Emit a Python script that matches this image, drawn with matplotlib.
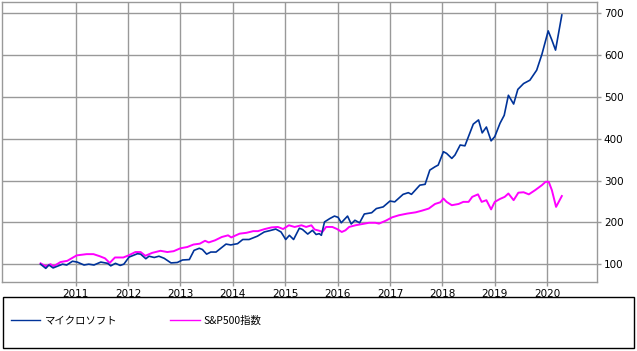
import numpy as np
import matplotlib
matplotlib.use('Agg')
import matplotlib.pyplot as plt
from matplotlib.patches import Rectangle

plt.rcParams['font.family'] = ['DejaVu Sans', 'Noto Sans CJK JP']

# series values (decimal year, index with start = 100)
msft_year = [2010.33, 2010.43, 2010.49, 2010.57, 2010.75, 2010.83, 2010.94, 2011.03, 2011.16, 2011.25,
             2011.35, 2011.48, 2011.61, 2011.67, 2011.76, 2011.85, 2011.92, 2012.02, 2012.18, 2012.24,
             2012.34, 2012.40, 2012.50, 2012.59, 2012.69, 2012.82, 2012.94, 2013.04, 2013.17, 2013.26,
             2013.36, 2013.42, 2013.50, 2013.58, 2013.68, 2013.77, 2013.87, 2013.96, 2014.09, 2014.19,
             2014.31, 2014.47, 2014.60, 2014.70, 2014.82, 2014.92, 2015.01, 2015.08, 2015.16, 2015.27,
             2015.33, 2015.43, 2015.52, 2015.59, 2015.65, 2015.69, 2015.75, 2015.85, 2015.94, 2016.01,
             2016.07, 2016.19, 2016.26, 2016.33, 2016.42, 2016.51, 2016.65, 2016.74, 2016.87, 2017.00,
             2017.09, 2017.25, 2017.35, 2017.41, 2017.57, 2017.67, 2017.76, 2017.86, 2017.92, 2018.02,
             2018.08, 2018.18, 2018.24, 2018.34, 2018.43, 2018.59, 2018.69, 2018.76, 2018.84, 2018.93,
             2019.00, 2019.10, 2019.18, 2019.26, 2019.36, 2019.44, 2019.55, 2019.67, 2019.80, 2019.90,
             2020.02, 2020.09, 2020.16, 2020.28]
msft_val = [100, 90, 98, 91, 100, 98, 107, 105, 98, 100,
            98, 105, 102, 96, 102, 97, 100, 117, 125, 124,
            113, 119, 116, 119, 114, 103, 104, 110, 111, 133,
            138, 135, 124, 129, 129, 138, 148, 146, 149, 159,
            159, 167, 177, 180, 184, 177, 159, 169, 159, 186,
            183, 172, 181, 171, 173, 169, 201, 209, 215, 212,
            199, 215, 196, 205, 199, 220, 223, 233, 237, 251,
            249, 267, 271, 267, 289, 291, 325, 333, 337, 369,
            365, 353, 361, 385, 383, 435, 445, 414, 428, 395,
            405, 437, 456, 504, 483, 518, 532, 540, 564, 602,
            658, 636, 612, 696]

sp_year = [2010.33, 2010.43, 2010.52, 2010.58, 2010.71, 2010.84, 2011.02, 2011.21, 2011.34, 2011.46,
           2011.56, 2011.65, 2011.75, 2011.91, 2012.01, 2012.14, 2012.24, 2012.33, 2012.46, 2012.62,
           2012.75, 2012.87, 2013.00, 2013.13, 2013.25, 2013.37, 2013.47, 2013.54, 2013.66, 2013.79,
           2013.91, 2013.97, 2014.13, 2014.26, 2014.39, 2014.48, 2014.61, 2014.74, 2014.86, 2014.96,
           2015.07, 2015.18, 2015.31, 2015.40, 2015.50, 2015.56, 2015.65, 2015.71, 2015.78, 2015.90,
           2015.99, 2016.08, 2016.15, 2016.22, 2016.34, 2016.47, 2016.60, 2016.72, 2016.79, 2016.92,
           2017.04, 2017.17, 2017.33, 2017.49, 2017.61, 2017.74, 2017.86, 2017.96, 2018.02, 2018.08,
           2018.18, 2018.31, 2018.40, 2018.50, 2018.57, 2018.68, 2018.75, 2018.84, 2018.93, 2019.00,
           2019.10, 2019.19, 2019.26, 2019.36, 2019.45, 2019.55, 2019.65, 2019.77, 2019.90, 2019.97,
           2020.03, 2020.09, 2020.17, 2020.28]
sp_val = [102, 95, 100, 95, 105, 108, 121, 124, 124, 119,
          114, 103, 116, 116, 121, 129, 129, 120, 127, 132,
          129, 131, 138, 141, 147, 149, 156, 152, 157, 165,
          169, 164, 173, 175, 179, 179, 184, 188, 189, 184,
          193, 189, 193, 189, 193, 183, 180, 177, 189, 189,
          184, 177, 181, 189, 193, 196, 199, 199, 197, 204,
          212, 217, 221, 224, 228, 233, 244, 248, 257, 249,
          241, 244, 249, 249, 261, 267, 249, 253, 231, 249,
          256, 261, 269, 253, 271, 272, 267, 277, 289, 297,
          297, 277, 237, 263]

year_ticks = list(range(2011, 2021))
value_ticks = [100, 200, 300, 400, 500, 600, 700]

fig = plt.figure(figsize=(6.37, 3.51), dpi=100)
ax = fig.add_axes([0.0036, 0.197, 0.9335, 0.7964])

ax.plot(msft_year, msft_val, color='#003399', lw=1.2, zorder=3)
ax.plot(sp_year, sp_val, color='#ff00ff', lw=1.4, zorder=2)

ax.set_xlim(2009.60, 2020.95)
ax.set_ylim(57.7, 726.3)
ax.set_xticks(year_ticks)
ax.set_xticklabels([str(y) for y in year_ticks])
ax.set_yticks(value_ticks)
ax.yaxis.tick_right()
ax.grid(True, color='#999999', lw=1.0)
for s in ax.spines.values():
    s.set_color('#999999')
    s.set_linewidth(1.0)
ax.tick_params(axis='both', colors='#999999', labelcolor='black', labelsize=7.5,
               length=3, width=1, pad=2)

# legend box below the plot
fig.patches.append(Rectangle((0.005, 0.008), 0.99, 0.145, transform=fig.transFigure,
                             fill=False, edgecolor='black', lw=1.0))
h1, = ax.plot([], [], color='#003399', lw=1.0, label='マイクロソフト')
h2, = ax.plot([], [], color='#ff00ff', lw=1.0, label='S&P500指数')
fig.legend(handles=[h1, h2], loc='center left', bbox_to_anchor=(0.003, 0.086),
           ncol=2, frameon=False, prop={'family': ['Noto Sans CJK JP', 'DejaVu Sans'], 'size': 7.5},
           handlelength=2.8, handletextpad=0.4, columnspacing=5.1)

fig.savefig('out.png', dpi=100)
